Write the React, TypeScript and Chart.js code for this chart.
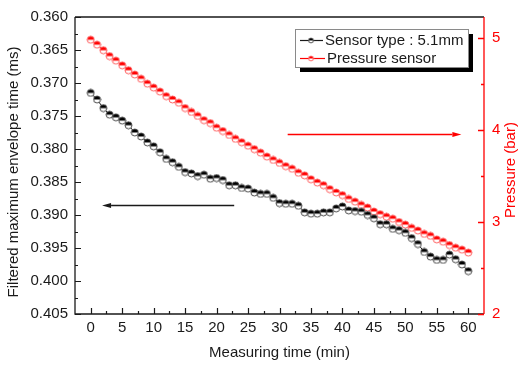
import React, { useEffect, useRef } from 'react';
import { Chart, registerables } from 'chart.js';

Chart.register(...registerables);

// ---- data ----
const minutes = [
  0, 1, 2, 3, 4, 5, 6, 7, 8, 9, 10, 11, 12, 13, 14, 15, 16, 17, 18, 19, 20,
  21, 22, 23, 24, 25, 26, 27, 28, 29, 30, 31, 32, 33, 34, 35, 36, 37, 38, 39, 40,
  41, 42, 43, 44, 45, 46, 47, 48, 49, 50, 51, 52, 53, 54, 55, 56, 57, 58, 59, 60,
];

const envelopeTime = [
  0.3715, 0.3725, 0.3738, 0.3748, 0.3752, 0.3757, 0.3764, 0.3775, 0.3781, 0.379,
  0.3796, 0.3805, 0.3815, 0.382, 0.3827, 0.3835, 0.3837, 0.3841, 0.3839, 0.3845,
  0.3844, 0.3847, 0.3855, 0.3855, 0.3859, 0.386, 0.3866, 0.3868, 0.3868, 0.3874,
  0.3882, 0.3883, 0.3883, 0.3886, 0.3896, 0.3898, 0.3898, 0.3896, 0.3896, 0.389,
  0.3887, 0.3893, 0.3894, 0.3895, 0.39, 0.3905, 0.3914, 0.3914, 0.3921, 0.3923,
  0.3927, 0.3935, 0.3944, 0.3956, 0.3963, 0.3968, 0.3968, 0.396, 0.3967, 0.3975,
  0.3985,
];

const pressure = [
  4.983, 4.929, 4.869, 4.805, 4.755, 4.704, 4.651, 4.604, 4.558, 4.505,
  4.462, 4.419, 4.369, 4.333, 4.297, 4.24, 4.197, 4.154, 4.108, 4.076,
  4.026, 3.99, 3.947, 3.905, 3.868, 3.83, 3.793, 3.755, 3.712, 3.675,
  3.643, 3.608, 3.579, 3.536, 3.508, 3.465, 3.429, 3.401, 3.358, 3.322,
  3.293, 3.251, 3.222, 3.186, 3.158, 3.115, 3.086, 3.058, 3.036, 3.0,
  2.972, 2.936, 2.908, 2.871, 2.85, 2.811, 2.786, 2.75, 2.721, 2.7,
  2.668,
];

const seriesLabels = ['Sensor type : 5.1mm', 'Pressure sensor'];

const xTicks = [0, 5, 10, 15, 20, 25, 30, 35, 40, 45, 50, 55, 60];
const xMinorTicks = [2.5, 7.5, 12.5, 17.5, 22.5, 27.5, 32.5, 37.5, 42.5, 47.5, 52.5, 57.5];
const leftTicks = [0.36, 0.365, 0.37, 0.375, 0.38, 0.385, 0.39, 0.395, 0.4, 0.405];
const leftMinorTicks = [0.3625, 0.3675, 0.3725, 0.3775, 0.3825, 0.3875, 0.3925, 0.3975, 0.4025];
const rightTicks = [2, 3, 4, 5];
const rightMinorTicks = [2.5, 3.5, 4.5];

const xTitle = 'Measuring time (min)';
const leftTitle = 'Filtered maximum envelope time (ms)';
const rightTitle = 'Pressure (bar)';

// arrows (in data units)
const leftArrow = { from: 22.8, to: 1.8, at: 0.3885 };
const rightArrow = { from: 31.3, to: 58.9, at: 3.96 };

const FONT = '"Liberation Sans", Arial, sans-serif';

function makeMarker(top: string, edge: string, r: number) {
  const s = Math.ceil(r * 2 + 2);
  const c = document.createElement('canvas');
  c.width = s;
  c.height = s;
  const g = c.getContext('2d')!;
  const cx = s / 2;
  const cy = s / 2;
  g.beginPath();
  g.arc(cx, cy, r, 0, Math.PI * 2);
  g.fillStyle = '#ffffff';
  g.fill();
  g.beginPath();
  g.arc(cx, cy, r, Math.PI, Math.PI * 2);
  g.closePath();
  g.fillStyle = top;
  g.fill();
  g.beginPath();
  g.arc(cx, cy, r, 0, Math.PI * 2);
  g.lineWidth = 1;
  g.strokeStyle = edge;
  g.stroke();
  return c;
}

function drawArrow(ctx: CanvasRenderingContext2D, x0: number, x1: number, y: number, color: string) {
  const dir = Math.sign(x1 - x0);
  const headLen = 9;
  const halfW = 2.4;
  ctx.save();
  ctx.strokeStyle = color;
  ctx.fillStyle = color;
  ctx.lineWidth = 1.5;
  ctx.beginPath();
  ctx.moveTo(x0, y);
  ctx.lineTo(x1 - dir * headLen, y);
  ctx.stroke();
  ctx.beginPath();
  ctx.moveTo(x1, y);
  ctx.lineTo(x1 - dir * headLen, y - halfW);
  ctx.lineTo(x1 - dir * headLen, y + halfW);
  ctx.closePath();
  ctx.fill();
  ctx.restore();
}

export default function App() {
  const ref = useRef<HTMLCanvasElement | null>(null);

  useEffect(() => {
    const canvas = ref.current;
    if (!canvas) return;

    const blackMarker = makeMarker('#000000', '#4a4a4a', 3.5);
    const redMarker = makeMarker('#ff0000', '#ff6060', 3.5);
    const blackLegendMarker = makeMarker('#000000', '#4a4a4a', 2.4);
    const redLegendMarker = makeMarker('#ff0000', '#ff6060', 2.4);

    const decor = {
      id: 'decor',
      afterDraw(chart: any) {
        const { ctx, chartArea: a, scales } = chart;
        const sx = scales.x;
        const sy = scales.y;
        const sy1 = scales.y1;
        ctx.save();

        // frame
        ctx.lineWidth = 1.3;
        ctx.strokeStyle = '#1a1a1a';
        ctx.beginPath();
        ctx.moveTo(a.left, a.top);
        ctx.lineTo(a.right, a.top);
        ctx.moveTo(a.left, a.top);
        ctx.lineTo(a.left, a.bottom);
        ctx.lineTo(a.right, a.bottom);
        ctx.stroke();

        // ticks (inward)
        ctx.lineWidth = 1.2;
        ctx.beginPath();
        xTicks.forEach((v) => {
          const p = Math.round(sx.getPixelForValue(v)) + 0.5;
          ctx.moveTo(p, a.bottom);
          ctx.lineTo(p, a.bottom - 6);
        });
        xMinorTicks.forEach((v) => {
          const p = Math.round(sx.getPixelForValue(v)) + 0.5;
          ctx.moveTo(p, a.bottom);
          ctx.lineTo(p, a.bottom - 3);
        });
        leftTicks.forEach((v) => {
          const p = Math.round(sy.getPixelForValue(v)) + 0.5;
          ctx.moveTo(a.left, p);
          ctx.lineTo(a.left + 6, p);
        });
        leftMinorTicks.forEach((v) => {
          const p = Math.round(sy.getPixelForValue(v)) + 0.5;
          ctx.moveTo(a.left, p);
          ctx.lineTo(a.left + 3, p);
        });
        ctx.stroke();

        // right axis (red)
        ctx.strokeStyle = '#ff0000';
        ctx.lineWidth = 1.3;
        ctx.beginPath();
        ctx.moveTo(a.right, a.top);
        ctx.lineTo(a.right, a.bottom);
        rightTicks.forEach((v) => {
          const p = Math.round(sy1.getPixelForValue(v)) + 0.5;
          ctx.moveTo(a.right, p);
          ctx.lineTo(a.right - 6, p);
        });
        rightMinorTicks.forEach((v) => {
          const p = Math.round(sy1.getPixelForValue(v)) + 0.5;
          ctx.moveTo(a.right, p);
          ctx.lineTo(a.right - 3, p);
        });
        ctx.stroke();

        // titles
        ctx.font = `15px ${FONT}`;
        ctx.textAlign = 'center';
        ctx.textBaseline = 'middle';
        ctx.fillStyle = '#1a1a1a';
        ctx.fillText(xTitle, (a.left + a.right) / 2, 353);
        ctx.save();
        ctx.translate(14, 172);
        ctx.rotate(-Math.PI / 2);
        ctx.fillText(leftTitle, 0, 0);
        ctx.restore();
        ctx.save();
        ctx.translate(511, 170);
        ctx.rotate(-Math.PI / 2);
        ctx.fillStyle = '#ff0000';
        ctx.fillText(rightTitle, 0, 0);
        ctx.restore();

        // arrows
        drawArrow(
          ctx,
          sx.getPixelForValue(leftArrow.from),
          sx.getPixelForValue(leftArrow.to),
          Math.round(sy.getPixelForValue(leftArrow.at)) + 0.5,
          '#1a1a1a'
        );
        drawArrow(
          ctx,
          sx.getPixelForValue(rightArrow.from),
          sx.getPixelForValue(rightArrow.to),
          Math.round(sy1.getPixelForValue(rightArrow.at)) + 0.5,
          '#ff0000'
        );

        // legend box with shadow
        const bx = 295;
        const by = 29;
        const bw = 173;
        const bh = 38;
        ctx.fillStyle = '#000000';
        ctx.fillRect(bx + 5, by + 5, bw, bh);
        ctx.fillStyle = '#ffffff';
        ctx.fillRect(bx, by, bw, bh);
        ctx.strokeStyle = '#8a8a8a';
        ctx.lineWidth = 1;
        ctx.strokeRect(bx + 0.5, by + 0.5, bw, bh);

        const rows = [
          { y: 40.5, color: '#1a1a1a', marker: blackLegendMarker, tx: 325, x1: 323 },
          { y: 58.5, color: '#ff0000', marker: redLegendMarker, tx: 327, x1: 325 },
        ];
        rows.forEach((r, i) => {
          ctx.strokeStyle = r.color;
          ctx.lineWidth = 1.2;
          ctx.beginPath();
          ctx.moveTo(300, r.y);
          ctx.lineTo(r.x1, r.y);
          ctx.stroke();
          ctx.drawImage(r.marker, 311 - r.marker.width / 2, r.y - r.marker.height / 2);
          ctx.fillStyle = '#1a1a1a';
          ctx.font = `15px ${FONT}`;
          ctx.textAlign = 'left';
          ctx.textBaseline = 'middle';
          ctx.fillText(chart.data.datasets[i].label, r.tx, r.y);
        });

        ctx.restore();
      },
    };

    const tickFont = { family: FONT, size: 15 };

    const chart = new Chart(canvas, {
      type: 'line',
      data: {
        datasets: [
          {
            label: seriesLabels[0],
            data: minutes.map((t, i) => ({ x: t, y: envelopeTime[i] })),
            yAxisID: 'y',
            borderColor: '#1a1a1a',
            borderWidth: 1,
            pointStyle: blackMarker as any,
            pointRadius: 3.5,
            tension: 0,
          },
          {
            label: seriesLabels[1],
            data: minutes.map((t, i) => ({ x: t, y: pressure[i] })),
            yAxisID: 'y1',
            borderColor: '#ff0000',
            borderWidth: 1,
            pointStyle: redMarker as any,
            pointRadius: 3.5,
            tension: 0,
          },
        ],
      },
      options: {
        responsive: false,
        animation: false,
        devicePixelRatio: 1,
        layout: { padding: { top: 13, left: 0, right: 0, bottom: 0 } },
        plugins: {
          legend: { display: false },
          tooltip: { enabled: false },
        },
        events: [],
        scales: {
          x: {
            type: 'linear',
            min: -2.5,
            max: 62.5,
            afterBuildTicks: (s: any) => {
              s.ticks = xTicks.map((v) => ({ value: v }));
            },
            afterFit: (s: any) => {
              s.height = 52;
            },
            ticks: {
              font: tickFont,
              color: '#1a1a1a',
              padding: 5,
              maxRotation: 0,
              autoSkip: false,
              callback: (v: any) => String(v),
            },
            grid: { display: false, drawTicks: false },
            border: { display: false },
          },
          y: {
            type: 'linear',
            position: 'left',
            reverse: true,
            min: 0.36,
            max: 0.405,
            afterBuildTicks: (s: any) => {
              s.ticks = leftTicks.map((v) => ({ value: v }));
            },
            afterFit: (s: any) => {
              s.width = 75;
            },
            ticks: {
              font: tickFont,
              color: '#1a1a1a',
              padding: 7,
              autoSkip: false,
              callback: (v: any) => Number(v).toFixed(3),
            },
            grid: { display: false, drawTicks: false },
            border: { display: false },
          },
          y1: {
            type: 'linear',
            position: 'right',
            min: 2,
            max: 5.23,
            afterBuildTicks: (s: any) => {
              s.ticks = rightTicks.map((v) => ({ value: v }));
            },
            afterFit: (s: any) => {
              s.width = 34;
            },
            ticks: {
              font: tickFont,
              color: '#ff0000',
              padding: 8,
              autoSkip: false,
              callback: (v: any) => String(v),
            },
            grid: { display: false, drawTicks: false },
            border: { display: false },
          },
        },
      },
      plugins: [decor],
    });

    return () => chart.destroy();
  }, []);

  return (
    <div style={{ position: 'fixed', left: 0, top: 0, width: 518, height: 366, background: '#fff' }}>
      <canvas ref={ref} width={518} height={366} style={{ display: 'block' }} />
    </div>
  );
}
